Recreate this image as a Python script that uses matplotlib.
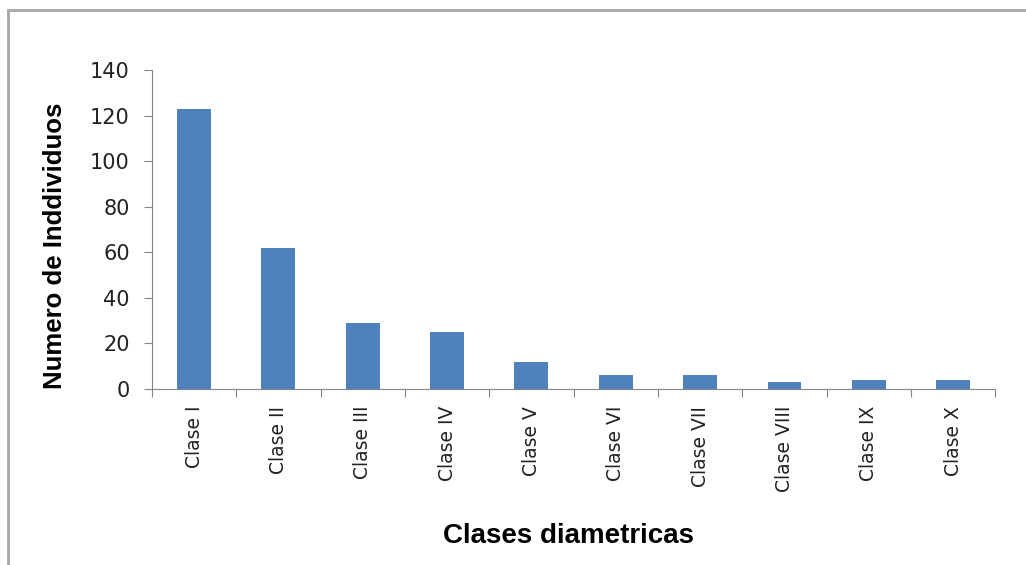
import matplotlib.pyplot as plt
import numpy as np
from matplotlib.patches import Rectangle

clases = ['Clase I', 'Clase II', 'Clase III', 'Clase IV', 'Clase V',
          'Clase VI', 'Clase VII', 'Clase VIII', 'Clase IX', 'Clase X']
individuos = [123, 62, 29, 25, 12, 6, 6, 3, 4, 4]
yticks = [0, 20, 40, 60, 80, 100, 120, 140]

fig = plt.figure(figsize=(10.26, 5.65), dpi=100)
ax = fig.add_axes([0.148, 0.3115, 0.822, 0.5645])

# outer chart frame (bottom/right run off the picture)
fig.patches.append(Rectangle((0.008, -0.05), 1.1, 1.032, transform=fig.transFigure,
                             fill=False, edgecolor='#a6a6a6', linewidth=2.0))

ix = np.arange(len(clases))
ax.bar(ix, individuos, 0.4, color='#4f81bd')

ax.set_xlim(-0.5, len(clases) - 0.5)
ax.set_ylim(0, 140)
ax.set_yticks(yticks)
ax.set_yticklabels([str(v) for v in yticks], fontsize=15, family='DejaVu Sans',
                   color='#222222')

ax.set_xticks(np.arange(len(clases) + 1) - 0.5)
ax.set_xticklabels([])
ax.set_xticks(ix, minor=True)
ax.set_xticklabels(clases, minor=True, rotation=90, fontsize=13.5,
                   family='DejaVu Sans', color='#222222')
ax.tick_params(axis='x', which='minor', length=0, pad=12)
ax.tick_params(axis='x', which='major', length=6, color='#868686')
ax.tick_params(axis='y', length=6, color='#868686', pad=10)

for s in ['top', 'right']:
    ax.spines[s].set_visible(False)
for s in ['left', 'bottom']:
    ax.spines[s].set_color('#868686')

ax.set_ylabel('Numero de Inddividuos', fontsize=18.5, fontweight='bold',
              family='Liberation Sans')
ax.yaxis.set_label_coords(-0.101, 0.45)
fig.text(0.554, 0.052, 'Clases diametricas', fontsize=20, fontweight='bold',
         family='Liberation Sans', ha='center', va='center')

fig.savefig('out.png', dpi=100)
